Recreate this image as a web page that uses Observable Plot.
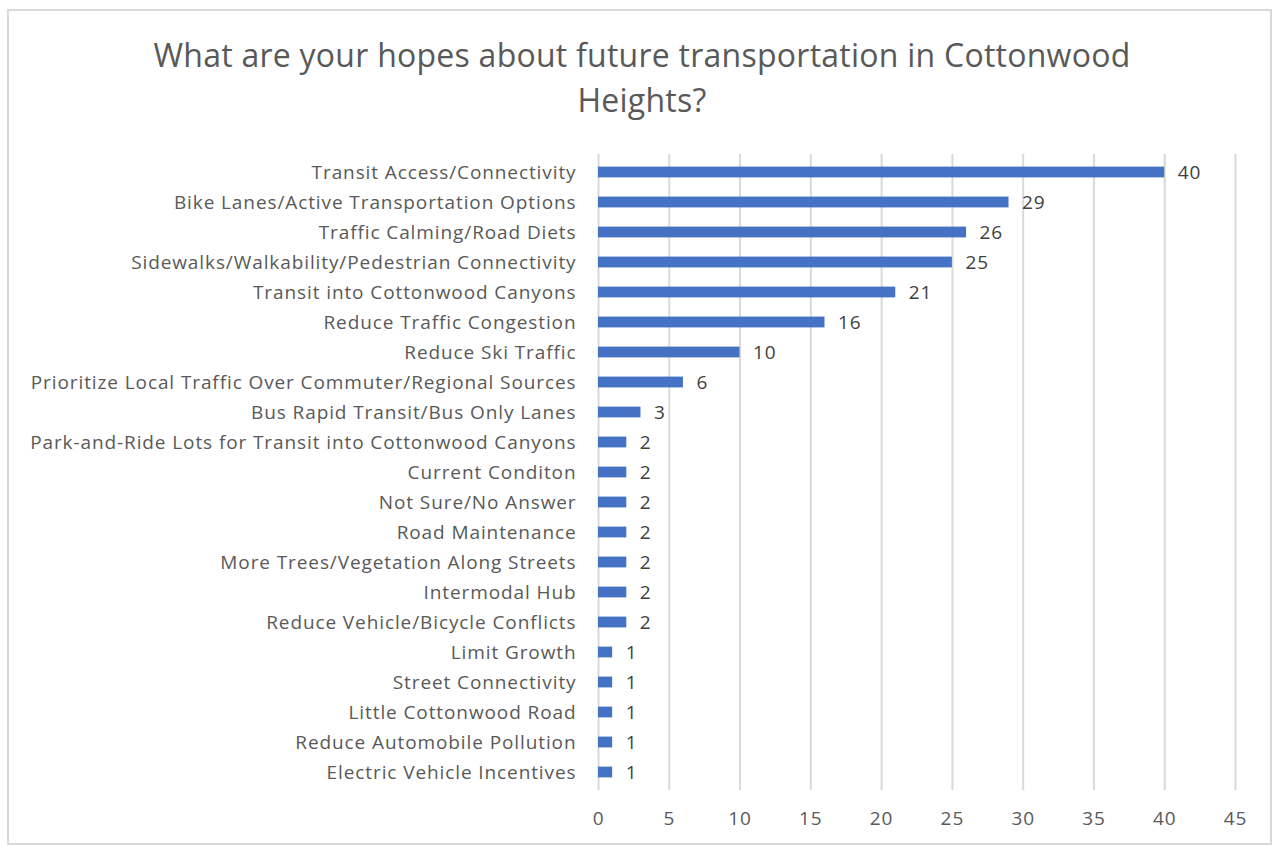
<!DOCTYPE html>
<html>
<head>
<meta charset="utf-8">
<script src="https://cdn.jsdelivr.net/npm/d3@7"></script>
<script src="https://cdn.jsdelivr.net/npm/@observablehq/plot@0.6"></script>
<style>
  html, body { margin: 0; padding: 0; background: #fff; }
  #wrap { position: relative; width: 1276px; height: 846px; overflow: hidden; font-family: "Open Sans", sans-serif; }
  #frame { position: absolute; left: 7px; top: 9px; width: 1265px; height: 836px; border: 2px solid #d9d9d9; box-sizing: border-box; }
  #title { position: absolute; left: 4px; width: 1276px; top: 32px; text-align: center; font-size: 32px; letter-spacing: 0.25px; line-height: 45px; color: #595959; }
  #chart { position: absolute; left: 0; top: 130px; }
  #chart svg { display: block; }
  #chart svg text { letter-spacing: 0.9px; }
</style>
</head>
<body>
<div id="wrap">
  <div id="frame"></div>
  <div id="title">What are your hopes about future transportation in Cottonwood<br>Heights?</div>
  <div id="chart"></div>
</div>
<script>
const categories = [
  "Transit Access/Connectivity",
  "Bike Lanes/Active Transportation Options",
  "Traffic Calming/Road Diets",
  "Sidewalks/Walkability/Pedestrian Connectivity",
  "Transit into Cottonwood Canyons",
  "Reduce Traffic Congestion",
  "Reduce Ski Traffic",
  "Prioritize Local Traffic Over Commuter/Regional Sources",
  "Bus Rapid Transit/Bus Only Lanes",
  "Park-and-Ride Lots for Transit into Cottonwood Canyons",
  "Current Conditon",
  "Not Sure/No Answer",
  "Road Maintenance",
  "More Trees/Vegetation Along Streets",
  "Intermodal Hub",
  "Reduce Vehicle/Bicycle Conflicts",
  "Limit Growth",
  "Street Connectivity",
  "Little Cottonwood Road",
  "Reduce Automobile Pollution",
  "Electric Vehicle Incentives"
];
const values = [40, 29, 26, 25, 21, 16, 10, 6, 3, 2, 2, 2, 2, 2, 2, 2, 1, 1, 1, 1, 1];
const xTicks = [0, 5, 10, 15, 20, 25, 30, 35, 40, 45];

const data = categories.map((c, i) => ({category: c, value: values[i]}));

const chart = Plot.plot({
  width: 1276,
  height: 716,
  marginLeft: 598,
  marginRight: 41,
  marginTop: 24,
  marginBottom: 56,
  style: {fontFamily: "Open Sans, sans-serif", fontSize: "19px", color: "#595959", background: "transparent"},
  x: {domain: [0, 45], ticks: xTicks, tickSize: 0, tickPadding: 21, label: null},
  y: {domain: categories, padding: 0, tickSize: 0, tickPadding: 22, label: null},
  marks: [
    Plot.gridX(xTicks, {stroke: "#d9d9d9", strokeOpacity: 1, strokeWidth: 2}),
    Plot.barX(data, {y: "category", x: "value", fill: "#4472c4", insetTop: 9.6, insetBottom: 9.6}),
    Plot.text(data, {y: "category", x: "value", text: d => String(d.value), textAnchor: "start", dx: 13, dy: 0, fill: "#404040", fontSize: 19})
  ]
});
chart.querySelectorAll("g[aria-label='x-axis tick label'] text, g[aria-label='y-axis tick label'] text").forEach(t => t.setAttribute("fill", "#595959"));
document.getElementById("chart").appendChild(chart);
</script>
</body>
</html>
